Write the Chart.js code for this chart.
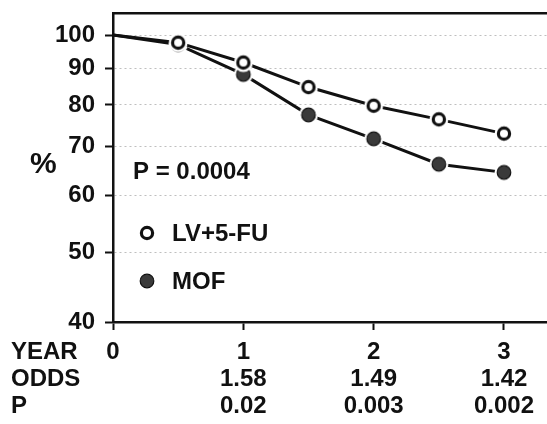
<!DOCTYPE html>
<html>
<head>
<meta charset="utf-8">
<script src="https://cdn.jsdelivr.net/npm/chart.js@4.4.0/dist/chart.umd.min.js"></script>
<style>
  html, body { margin: 0; padding: 0; background: #fff; }
  #wrap { width: 547px; height: 424px; }
</style>
</head>
<body>
<div id="wrap"><canvas id="chart" width="547" height="424"></canvas></div>
<script>
// Values (survival %, log scale)
const years = [0, 0.5, 1, 1.5, 2, 2.5, 3];
const lvFu = [100, 97.6, 91.6, 84.7, 79.8, 76.4, 73.0];
const mof = [100, 97.0, 88.2, 77.5, 71.8, 66.2, 64.5];
const seriesNames = ['LV+5-FU', 'MOF'];
const yTicks = [40, 50, 60, 70, 80, 90, 100];
const yearTicks = [0, 1, 2, 3];
const odds = ['', '1.58', '1.49', '1.42'];
const pValues = ['', '0.02', '0.003', '0.002'];
const rowNames = ['YEAR', 'ODDS', 'P'];
const overallP = 'P = 0.0004';

const FONT_FAMILY = '"Liberation Sans", Arial, Helvetica, sans-serif';
const INK = '#111';

document.addEventListener('DOMContentLoaded', () => {
    drawChart();
});

// Marker with a white halo so the line stops short of it, like the print
function makeMarker(filled) {
    const c = document.createElement('canvas');
    c.width = 22;
    c.height = 22;
    const g = c.getContext('2d');
    g.fillStyle = '#fff';
    g.beginPath();
    g.arc(11, 11, 9.5, 0, Math.PI * 2);
    g.fill();
    g.beginPath();
    if (filled) {
        g.arc(11, 11, 6.8, 0, Math.PI * 2);
        g.fillStyle = '#3a3a3a';
        g.fill();
        g.lineWidth = 1.2;
        g.strokeStyle = INK;
        g.stroke();
    } else {
        g.arc(11, 11, 5.6, 0, Math.PI * 2);
        g.lineWidth = 3.2;
        g.strokeStyle = INK;
        g.stroke();
    }
    return c;
}

// keep the plot area exactly where the print has it
function noPadding(scale) {
    scale.paddingTop = 0;
    scale.paddingBottom = 0;
    scale.paddingLeft = 0;
    scale.paddingRight = 0;
}

function drawChart() {
    const openMarker = makeMarker(false);
    const filledMarker = makeMarker(true);
    const radius = (ctx) => (ctx.dataIndex === 0 ? 0 : 7);

    const textPlugin = {
        id: 'figureText',
        afterDraw(chart) {
            const ctx = chart.ctx;
            ctx.save();
            ctx.fillStyle = INK;
            ctx.textBaseline = 'middle';
            ctx.textAlign = 'left';

            ctx.font = 'bold 30px ' + FONT_FAMILY;
            ctx.fillText('%', 30, 165);

            ctx.font = 'bold 24px ' + FONT_FAMILY;
            ctx.fillText(overallP, 133, 172);

            // legend
            ctx.drawImage(openMarker, 147 - 11, 233 - 11);
            ctx.fillText(seriesNames[0], 172, 234);
            ctx.drawImage(filledMarker, 147 - 11, 281 - 11);
            ctx.fillText(seriesNames[1], 172, 282);

            // row names beside the x tick label rows
            const xs = chart.scales.x;
            const top = xs.top + 8 + 8.5;
            rowNames.forEach((name, i) => {
                ctx.fillText(name, 11, top + 27 * i + 14);
            });
            ctx.restore();
        }
    };

    new Chart(document.getElementById('chart'), {
        type: 'line',
        data: {
            datasets: [
                {
                    label: seriesNames[0],
                    data: years.map((x, i) => ({ x: x, y: lvFu[i] })),
                    borderColor: INK,
                    borderWidth: 3,
                    pointStyle: openMarker,
                    pointRadius: radius,
                    tension: 0
                },
                {
                    label: seriesNames[1],
                    data: years.map((x, i) => ({ x: x, y: mof[i] })),
                    borderColor: INK,
                    borderWidth: 3,
                    pointStyle: filledMarker,
                    pointRadius: radius,
                    tension: 0
                }
            ]
        },
        options: {
            responsive: false,
            animation: false,
            devicePixelRatio: 1,
            layout: { autoPadding: false, padding: { left: 0, right: 0, top: 13, bottom: 0 } },
            plugins: {
                legend: { display: false },
                tooltip: { enabled: false }
            },
            scales: {
                x: {
                    type: 'linear',
                    position: 'bottom',
                    min: 0,
                    max: 3.33,
                    afterBuildTicks: (scale) => {
                        scale.ticks = yearTicks.map((v) => ({ value: v }));
                    },
                    afterFit: (scale) => {
                        scale.height = 102;
                        noPadding(scale);
                    },
                    ticks: {
                        color: INK,
                        padding: 9,
                        maxRotation: 0,
                        autoSkip: false,
                        font: { family: FONT_FAMILY, size: 24, weight: 'bold', lineHeight: 1.125 },
                        callback: (value) => {
                            const i = yearTicks.indexOf(value);
                            return [String(value), odds[i], pValues[i]];
                        }
                    },
                    grid: {
                        drawOnChartArea: false,
                        tickLength: 8,
                        tickColor: INK,
                        tickWidth: 2
                    },
                    border: { color: INK, width: 2.5 }
                },
                xTop: {
                    type: 'linear',
                    position: 'top',
                    min: 0,
                    max: 3.33,
                    afterFit: (scale) => {
                        scale.height = 0;
                        noPadding(scale);
                    },
                    ticks: { display: false },
                    grid: { display: false, drawTicks: false },
                    border: { color: INK, width: 2.5 }
                },
                y: {
                    type: 'logarithmic',
                    min: 40,
                    max: 107.3,
                    afterBuildTicks: (scale) => {
                        scale.ticks = yTicks.map((v) => ({ value: v }));
                    },
                    afterFit: (scale) => {
                        scale.width = 113;
                        noPadding(scale);
                    },
                    ticks: {
                        color: INK,
                        padding: 10,
                        autoSkip: false,
                        font: { family: FONT_FAMILY, size: 24, weight: 'bold' },
                        callback: (value) => String(value)
                    },
                    grid: {
                        color: (ctx) => (ctx.tick && ctx.tick.value === 40 ? 'rgba(0,0,0,0)' : 'rgba(0,0,0,0.25)'),
                        lineWidth: 1,
                        tickLength: 8,
                        tickColor: INK,
                        tickWidth: 2,
                        tickBorderDash: []
                    },
                    border: { color: INK, width: 2.5, dash: [2, 3] }
                }
            }
        },
        plugins: [textPlugin]
    });
}
</script>
</body>
</html>
